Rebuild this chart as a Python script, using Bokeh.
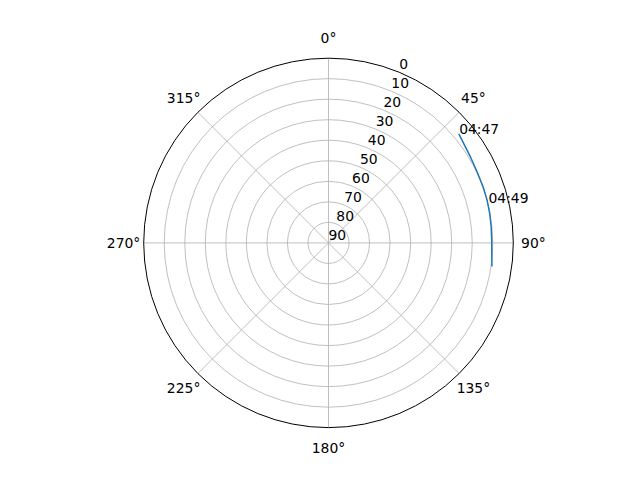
import numpy as np
from bokeh.plotting import figure
from bokeh.models import Range1d
from bokeh.core.properties import value
from bokeh.embed import file_html
from bokeh.resources import INLINE

# ---- data ----
pass_az = [50.1, 53.8, 58.9, 64.6, 70.2, 75.0, 79.8, 84.5, 89.2, 93.8, 98.2]
pass_elev = [7.25, 8.3, 9.2, 9.8, 9.9, 10.0, 10.2, 10.4, 10.5, 10.3, 9.6]
label_times = ["04:47", "04:49"]
label_az = [50.3, 76.3]
label_elev = [7.3, 9.8]

elev_ticks = [0, 10, 20, 30, 40, 50, 60, 70, 80, 90]
az_ticks = [0, 45, 90, 135, 180, 225, 270, 315]
az_tick_labels = ["0°", "45°", "90°", "135°", "180°", "225°", "270°", "315°"]

FONT = value("DejaVu Sans")
FSIZE = "13.9px"

def to_xy(az, elev):
    a = np.radians(np.asarray(az, dtype=float))
    r = 90.0 - np.asarray(elev, dtype=float)
    return r * np.sin(a), r * np.cos(a)

# pixel geometry of the reference: centre (328, 242.4), radius 184.8 px
scale = 184.8 / 90.0
W, H = 624, 464
x0 = -328 / scale
y1 = 242.4 / scale
p = figure(width=W, height=H, output_backend="svg", toolbar_location=None,
           x_axis_location=None, y_axis_location=None, min_border=0,
           x_range=Range1d(x0, x0 + W / scale), y_range=Range1d(y1 - H / scale, y1))
p.grid.visible = False
p.outline_line_color = None
p.background_fill_color = "white"

# radial grid circles
ring_r = [90 - e for e in elev_ticks if 0 < 90 - e < 90]
p.circle(x=[0] * len(ring_r), y=[0] * len(ring_r), radius=ring_r,
         fill_color=None, line_color="#b0b0b0", line_width=0.8)

# spokes
sx, sy = to_xy(az_ticks, [0] * len(az_ticks))
p.segment(x0=[0] * len(az_ticks), y0=[0] * len(az_ticks), x1=sx, y1=sy,
          line_color="#b0b0b0", line_width=0.8)

# outer spine
p.circle(x=[0], y=[0], radius=[90], fill_color=None, line_color="black", line_width=1.0)

# pass track
tx, ty = to_xy(pass_az, pass_elev)
p.line(tx, ty, line_color="#1f77b4", line_width=1.5)

# time labels (left / baseline anchored at the point)
lx, ly = to_xy(label_az, label_elev)
p.text(x=lx, y=ly, text=label_times, text_font=FONT, text_font_size=FSIZE,
       text_align="left", text_baseline="middle", y_offset=-5.8, text_color="black")

# azimuth labels
ax_, ay_ = to_xy(az_ticks, [-9.8] * len(az_ticks))
p.text(x=ax_, y=ay_, text=az_tick_labels, text_font=FONT, text_font_size=FSIZE,
       text_align="center", text_baseline="middle", text_color="black")

# elevation labels along 22.5 deg
ex, ey = to_xy([22.5] * len(elev_ticks), elev_ticks)
p.text(x=ex, y=ey, text=[str(e) for e in elev_ticks], text_font=FONT,
       text_font_size=FSIZE, text_align="left", text_baseline="middle",
       y_offset=-8.2, text_color="black")

open("out.html", "w").write(file_html(p, INLINE))
